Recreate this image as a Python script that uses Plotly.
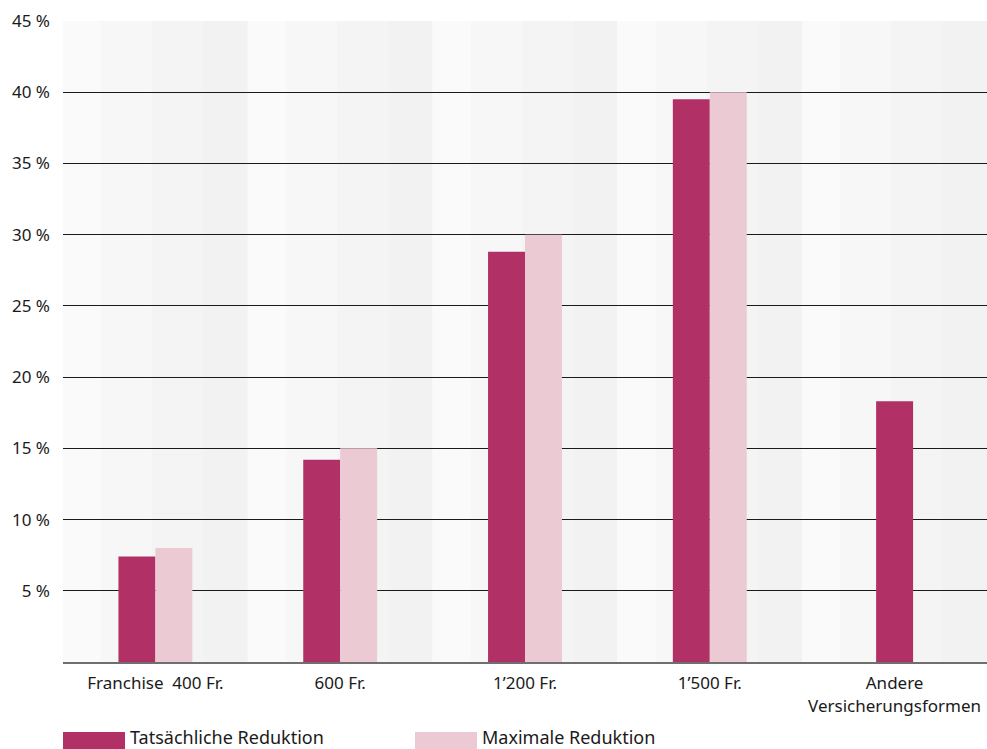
import plotly.graph_objects as go

# Data
categories = ["Franchise  400 Fr.", "600 Fr.", "1’200 Fr.", "1’500 Fr.", "Andere<br>Versicherungsformen"]
actual_reduction = [7.4, 14.2, 28.8, 39.5, 18.3]
max_reduction = [8.0, 15.0, 30.0, 40.0, None]
y_ticks = [5, 10, 15, 20, 25, 30, 35, 40, 45]
y_tick_labels = [f"{v} %" for v in y_ticks]

series_names = ["Tatsächliche Reduktion", "Maximale Reduktion"]
dark_color = "#b13167"
light_color = "#ebcad3"
font_family = "Noto Sans, DejaVu Sans, sans-serif"
font_size = 17

bar_w = 0.2
# the lone bar in the last group sits centred in its column
dark_offset = [-bar_w if m is not None else -bar_w / 2 for m in max_reduction]
light_offset = [0.0] * len(categories)

fig = go.Figure()
fig.add_trace(go.Bar(
    x=categories, y=actual_reduction, name=series_names[0],
    marker=dict(color=dark_color, line=dict(width=0)),
    width=bar_w, offset=dark_offset, showlegend=False,
))
fig.add_trace(go.Bar(
    x=categories, y=max_reduction, name=series_names[1],
    marker=dict(color=light_color, line=dict(width=0)),
    width=bar_w, offset=light_offset, showlegend=False,
))

# Shaded vertical bands in each category column
band_edges = [0.0, 0.205, 0.48, 0.757, 1.0]
band_colors = ["#fafafa", "#f7f7f7", "#f4f4f4", "#f2f2f2"]
shapes = []
for i in range(len(categories)):
    for k in range(4):
        shapes.append(dict(
            type="rect", xref="x", yref="paper",
            x0=i - 0.5 + band_edges[k], x1=i - 0.5 + band_edges[k + 1],
            y0=0, y1=1, fillcolor=band_colors[k], line=dict(width=0), layer="below",
        ))

# Custom legend swatches below the chart
legend_items = [(series_names[0], dark_color, 63), (series_names[1], light_color, 415)]
annotations = []
for name, color, x0 in legend_items:
    shapes.append(dict(
        type="rect", xref="paper", yref="paper",
        x0=(x0 - 63) / 924, x1=(x0 + 62 - 63) / 924,
        y0=-(732 - 662) / 641 - 17 / 641, y1=-(732 - 662) / 641,
        fillcolor=color, line=dict(width=0),
    ))
    annotations.append(dict(
        text=name, xref="paper", yref="paper",
        x=(x0 + 65 - 63) / 924, y=-(737 - 662) / 641,
        xanchor="left", yanchor="middle", showarrow=False,
        font=dict(size=18, color="#1a1a1a", family=font_family),
    ))

fig.update_layout(
    width=987, height=749,
    margin=dict(l=63, r=0, t=21, b=87),
    paper_bgcolor="white", plot_bgcolor="white",
    barmode="overlay",
    font=dict(family=font_family, size=font_size, color="#1a1a1a"),
    shapes=shapes, annotations=annotations,
    xaxis=dict(
        type="category", range=[-0.5, len(categories) - 0.5],
        showgrid=False, showline=True, linecolor="#6f6f6f", linewidth=2,
        ticks="", tickfont=dict(size=font_size), fixedrange=True,
        ticklabelstandoff=5,
    ),
    yaxis=dict(
        range=[0, 45], tickvals=y_ticks, ticktext=y_tick_labels,
        showgrid=True, gridcolor="#1a1a1a", gridwidth=1,
        zeroline=False, showline=False, ticks="",
        ticklabelstandoff=12, tickfont=dict(size=font_size),
    ),
)

fig.write_html("out.html")
